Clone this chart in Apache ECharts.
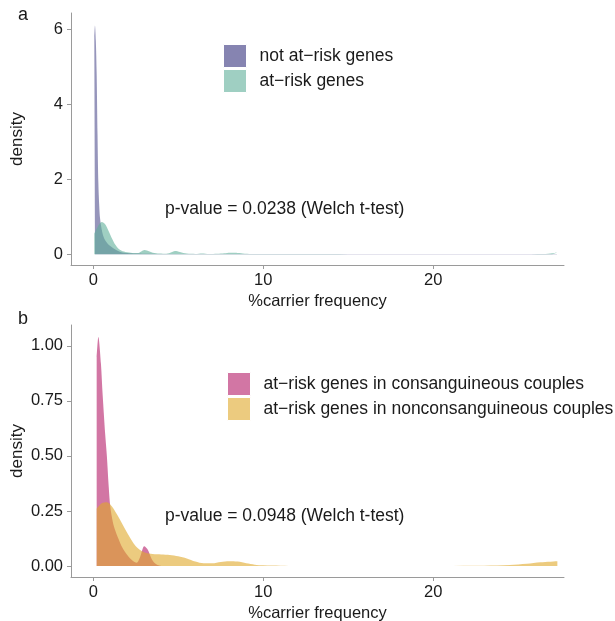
<!DOCTYPE html>
<html>
<head>
<meta charset="utf-8">
<script src="https://cdn.jsdelivr.net/npm/echarts@6/dist/echarts.min.js"></script>
<style>
html,body{margin:0;padding:0;background:#fff;}
#chart{width:615px;height:621px;}
</style>
</head>
<body>
<div id="chart"></div>
<script>
// ---- Data ----
var xTicks = [0, 10, 20];
var yTicksA = [0, 2, 4, 6];
var yTicksB = [0, 0.25, 0.5, 0.75, 1.0];

var seriesNamesA = ['not at\u2212risk genes', 'at\u2212risk genes'];
var seriesNamesB = ['at\u2212risk genes in consanguineous couples', 'at\u2212risk genes in nonconsanguineous couples'];

// Panel a: not at-risk genes density
var notAtRiskX = [0.06, 0.1, 0.15, 0.2, 0.25, 0.3, 0.35, 0.4, 0.5, 0.6, 0.7, 0.85, 1.0, 1.2, 1.4, 1.6, 1.8, 2.0, 2.5, 3.0, 4.0, 6.0, 10.0, 27.3];
var notAtRiskY = [5.8, 6.1, 5.7, 4.8, 3.2, 1.9, 1.3, 0.95, 0.65, 0.47, 0.37, 0.28, 0.22, 0.15, 0.1, 0.06, 0.04, 0.03, 0.015, 0.01, 0.005, 0.002, 0.001, 0.0];

// Panel a: at-risk genes density
var atRiskX = [0.06, 0.2, 0.35, 0.5, 0.7, 0.9, 1.1, 1.3, 1.5, 1.8, 2.2, 2.6, 2.85, 3.0, 3.2, 3.5, 3.9, 4.3, 4.6, 4.8, 5.1, 5.5, 6.0, 6.4, 6.8, 7.3, 7.7, 8.05, 8.4, 8.8, 9.3, 10.0, 15.0, 20.0, 25.0, 26.5, 27.0, 27.3];
var atRiskY = [0.55, 0.68, 0.8, 0.86, 0.8, 0.62, 0.42, 0.25, 0.14, 0.07, 0.04, 0.03, 0.08, 0.11, 0.09, 0.04, 0.015, 0.01, 0.05, 0.085, 0.06, 0.015, 0.005, 0.02, 0.005, 0.012, 0.025, 0.04, 0.035, 0.015, 0.003, 0.001, 0.0, 0.0, 0.0, 0.004, 0.025, 0.045];

// Panel b: consanguineous couples
var consX = [0.2, 0.3, 0.45, 0.55, 0.7, 0.8, 0.9, 1.0, 1.15, 1.3, 1.5, 1.7, 2.0, 2.3, 2.55, 2.75, 3.0, 3.2, 3.45, 3.7, 4.0];
var consY = [0.95, 1.04, 0.92, 0.78, 0.6, 0.5, 0.37, 0.27, 0.2, 0.16, 0.12, 0.085, 0.05, 0.025, 0.015, 0.04, 0.09, 0.075, 0.03, 0.008, 0.0];

// Panel b: nonconsanguineous couples
var nonconsX = [0.2, 0.5, 0.8, 1.1, 1.5, 2.0, 2.5, 3.0, 3.5, 4.0, 4.5, 5.0, 5.5, 6.0, 6.5, 7.0, 7.5, 8.0, 8.5, 9.0, 9.5, 10.0, 11.0, 12.0, 18.0, 23.0, 24.5, 25.5, 26.3, 27.3];
var nonconsY = [0.26, 0.285, 0.29, 0.27, 0.22, 0.15, 0.09, 0.062, 0.054, 0.052, 0.05, 0.044, 0.034, 0.02, 0.012, 0.012, 0.018, 0.022, 0.02, 0.012, 0.006, 0.003, 0.001, 0.0, 0.0, 0.001, 0.004, 0.01, 0.017, 0.022];

var pTextA = 'p-value = 0.0238 (Welch t-test)';
var pTextB = 'p-value = 0.0948 (Welch t-test)';

function pairs(xs, ys) { return xs.map(function (x, i) { return [x, ys[i]]; }); }

var FONT = 'Liberation Sans, Arial, Helvetica, sans-serif';
var axisGray = '#9a9a9a';
var txt = '#1a1a1a';

function xAxis(gi) {
  return {
    type: 'value', gridIndex: gi, min: -1.31, max: 27.69,
    name: '%carrier frequency', nameLocation: 'middle', nameGap: 28, nameMoveOverlap: false,
    nameTextStyle: { color: txt, fontSize: 16.5, fontFamily: FONT },
    axisLine: { show: true, onZero: false, lineStyle: { color: axisGray, width: 1 } },
    axisTick: { show: true, length: 4, lineStyle: { color: axisGray }, customValues: xTicks },
    axisLabel: { color: txt, fontSize: 16.5, fontFamily: FONT, margin: 7, customValues: xTicks },
    splitLine: { show: false }
  };
}
function yAxis(gi, mn, mx, ticks, fmt) {
  return {
    type: 'value', gridIndex: gi, min: mn, max: mx,
    name: 'density', nameLocation: 'middle', nameGap: 45, nameMoveOverlap: false,
    nameTextStyle: { color: txt, fontSize: 17, fontFamily: FONT },
    axisLine: { show: true, onZero: false, lineStyle: { color: axisGray, width: 1 } },
    axisTick: { show: true, length: 4, lineStyle: { color: axisGray }, customValues: ticks },
    axisLabel: { color: txt, fontSize: 16.5, fontFamily: FONT, margin: 8, customValues: ticks, formatter: fmt },
    splitLine: { show: false }
  };
}
function area(name, xi, yi, xs, ys, legendColor, fill) {
  return {
    name: name, type: 'line', xAxisIndex: xi, yAxisIndex: yi,
    data: pairs(xs, ys), showSymbol: false, smooth: 0.3, silent: true,
    color: legendColor,
    itemStyle: { color: legendColor },
    lineStyle: { width: 0, color: fill },
    areaStyle: { color: fill, opacity: 1, origin: 'auto' }
  };
}
function legend(names, left, top) {
  return {
    data: names, orient: 'vertical', left: left, top: top, itemGap: 1, padding: 0,
    itemWidth: 23, itemHeight: 23, icon: 'rect',
    itemStyle: { borderColor: '#ffffff', borderWidth: 1 },
    textStyle: { color: txt, fontSize: 17.5, fontFamily: FONT, padding: [0, 0, 0, 8] },
    selectedMode: false
  };
}

var chart = echarts.init(document.getElementById('chart'), null, { renderer: 'canvas' });
chart.setOption({
  backgroundColor: '#ffffff',
  animation: false,
  textStyle: { fontFamily: FONT },
  grid: [
    { left: 71, top: 13, width: 493, height: 252, containLabel: false, outerBoundsMode: 'none' },
    { left: 71, top: 325, width: 493, height: 252, containLabel: false, outerBoundsMode: 'none' }
  ],
  xAxis: [xAxis(0), xAxis(1)],
  yAxis: [
    yAxis(0, -0.29, 6.43, yTicksA, function (v) { return String(Math.round(v)); }),
    yAxis(1, -0.05, 1.095, yTicksB, function (v) { return v.toFixed(2); })
  ],
  legend: [legend(seriesNamesA, 223, 44), legend(seriesNamesB, 227, 372)],
  series: [
    area(seriesNamesA[0], 0, 0, notAtRiskX, notAtRiskY, '#8684b1', 'rgba(80,78,142,0.6)'),
    area(seriesNamesA[1], 0, 0, atRiskX, atRiskY, '#9fcfc2', 'rgba(95,175,153,0.6)'),
    area(seriesNamesB[0], 1, 1, consX, consY, '#d276a4', 'rgba(180,27,103,0.6)'),
    area(seriesNamesB[1], 1, 1, nonconsX, nonconsY, '#eccb7f', 'rgba(223,168,42,0.6)')
  ],
  graphic: [
    { type: 'text', x: 18, y: 6, style: { text: 'a', fontSize: 18, fontFamily: FONT, fill: txt } },
    { type: 'text', x: 18, y: 310, style: { text: 'b', fontSize: 18, fontFamily: FONT, fill: txt } },
    { type: 'text', x: 165, y: 209, style: { text: pTextA, fontSize: 17.5, fontFamily: FONT, fill: txt, align: 'left', verticalAlign: 'middle' } },
    { type: 'text', x: 165, y: 516, style: { text: pTextB, fontSize: 17.5, fontFamily: FONT, fill: txt, align: 'left', verticalAlign: 'middle' } }
  ]
});
</script>
</body>
</html>
